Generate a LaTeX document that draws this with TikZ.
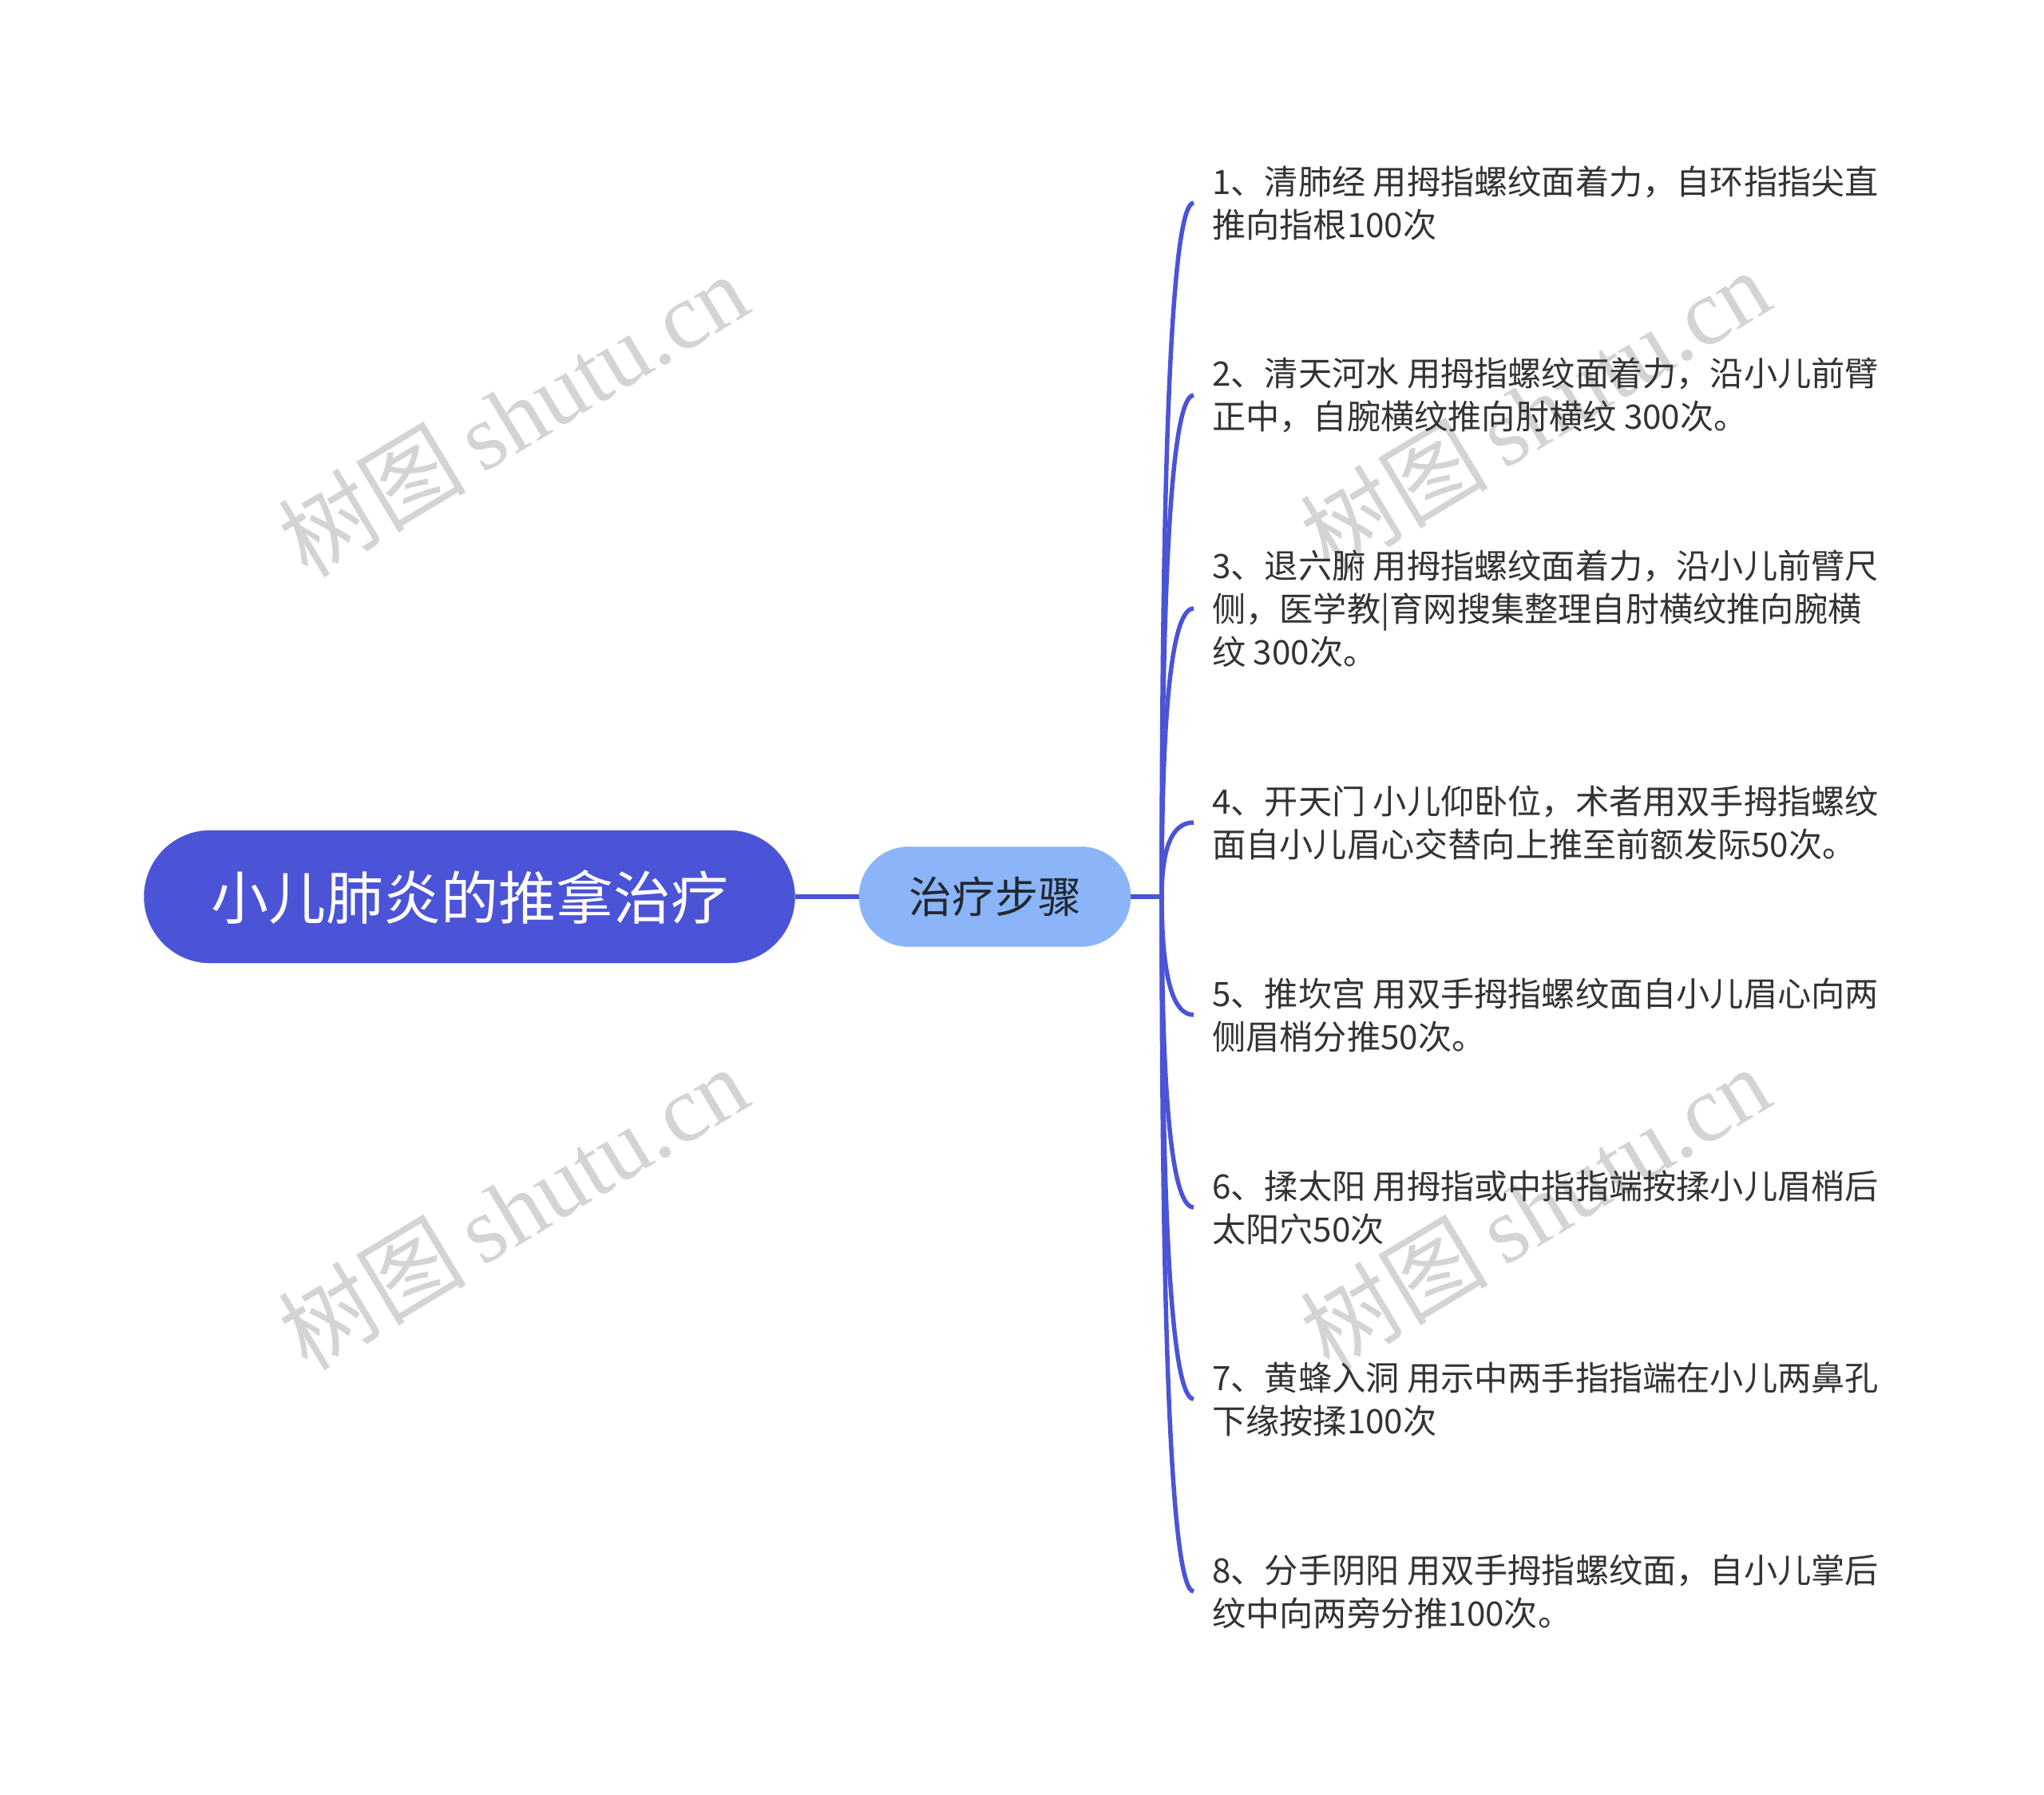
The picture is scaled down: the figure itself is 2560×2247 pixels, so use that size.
\documentclass[tikz,border=0pt]{standalone}
\usepackage{fontspec}
\setmainfont{Noto Sans CJK SC}
\newfontfamily\wmcjk{Noto Sans CJK SC}
\newfontfamily\wmlat{Liberation Serif}
\usetikzlibrary{calc}
\definecolor{mainblue}{HTML}{4B53D6}
\definecolor{lightblue}{HTML}{8BB5F8}
\definecolor{txtdark}{HTML}{333333}
\definecolor{midtxt}{HTML}{222831}
\definecolor{wmgray}{HTML}{D4D4D4}
\tikzset{
  rootbox/.style={fill=mainblue, draw=mainblue, rounded corners=83pt, minimum width=815pt, minimum height=166pt, inner sep=0pt, text=white, font=\fontsize{72}{80}\selectfont},
  midbox/.style={fill=lightblue, draw=lightblue, rounded corners=62pt, minimum width=340pt, minimum height=125pt, inner sep=0pt, text=midtxt, font=\fontsize{54}{60}\selectfont},
  leaf/.style={anchor=west, inner sep=0pt, align=left, text=txtdark, font=\fontsize{42.2}{54}\selectfont},
  conn/.style={draw=mainblue, line width=5.5pt},
  wmark/.style={text=wmgray, rotate=31, inner sep=0pt}
}
\begin{document}
\begin{tikzpicture}[x=1pt,y=-1pt]
\useasboundingbox (0,0) rectangle (2560,2247);
% watermarks
\foreach \wx/\wy [count=\k] in {642/519, 1922/514, 642/1512, 1922/1512}{
  \node[wmark] (wm\k) at (\wx,\wy) {\fontsize{118}{120}\selectfont\wmcjk 树图\,\wmlat shutu.cn};
}
% nodes
\node[rootbox] (root) at (588,1123) {小儿肺炎的推拿治疗};
\node[midbox] (mid) at (1246,1123) {治疗步骤};
\coordinate (J) at (1455,1123);
\node[leaf] (c1) at (1518,254) {1、清肺经 用拇指螺纹面着力，自环指指尖直\\推向指根100次};
\node[leaf] (c2) at (1518,495) {2、清天河水 用拇指螺纹面着力，沿小儿前臂\\正中，自腕横纹推向肘横纹 300次。};
\node[leaf] (c3) at (1518,762) {3、退六腑 用拇指螺纹面着力，沿小儿前臂尺\\侧，医学教|育网搜集整理自肘横纹推向腕横\\纹 300次。};
\node[leaf] (c4) at (1518,1030) {4、开天门 小儿仰卧位，术者用双手拇指螺纹\\面自小儿眉心交替向上推至前额发际50次。};
\node[leaf] (c5) at (1518,1271) {5、推坎宫 用双手拇指螺纹面自小儿眉心向两\\侧眉梢分推50次。};
\node[leaf] (c6) at (1518,1512) {6、揉太阳 用拇指或中指指端按揉小儿眉梢后\\太阳穴50次};
\node[leaf] (c7) at (1518,1752) {7、黄蜂入洞 用示中两手指指端在小儿两鼻孔\\下缘按揉100次};
\node[leaf] (c8) at (1518,1993) {8、分手阴阳 用双手拇指螺纹面，自小儿掌后\\纹中向两旁分推100次。};
% connectors
\draw[conn] (root.east) -- (mid.west);
\draw[conn] (mid.east) -- (J);
\foreach \i in {1,...,8}{
  \coordinate (e\i) at ($(c\i.west)+(-23,0)$);
  \draw[conn] (J) .. controls ($(J)!0.6667!(J|-e\i)$) and ($(e\i)!0.6667!(J|-e\i)$) .. (e\i);
}
\end{tikzpicture}
\end{document}
